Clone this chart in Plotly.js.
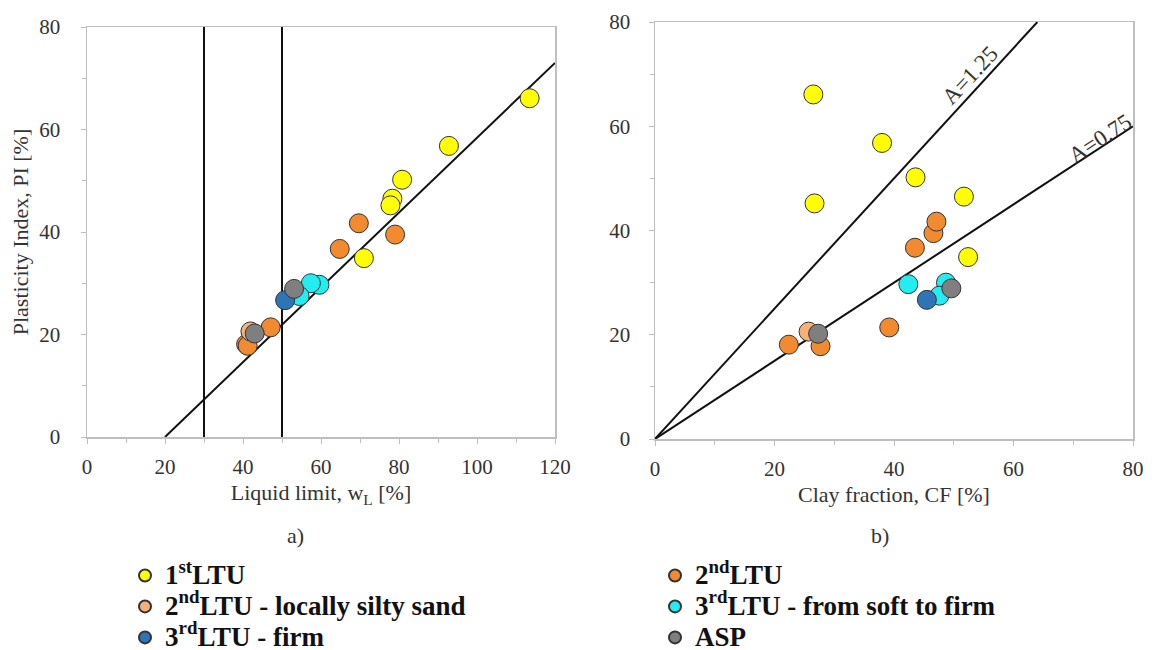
<!DOCTYPE html>
<html>
<head>
<meta charset="utf-8">
<script src="https://cdn.plot.ly/plotly-3.0.1.min.js"></script>
<style>html,body{margin:0;padding:0;background:#fff;}#chart{width:1161px;height:650px;}</style>
</head>
<body>
<div id="chart"></div>
<script>
// ---- Data ----
// 1st LTU
const ltu1_LL = [113.5, 92.8, 80.8, 78.3, 77.8, 71.0];
const ltu1_CF = [26.5, 38.0, 43.6, 51.7, 26.7, 52.4];
const ltu1_PI = [66.1, 56.8, 50.2, 46.5, 45.2, 34.9];
// 2nd LTU
const ltu2_LL = [40.8, 41.2, 47.1, 64.8, 79.0, 69.7];
const ltu2_CF = [22.4, 27.7, 39.2, 43.5, 46.6, 47.1];
const ltu2_PI = [18.1, 17.8, 21.4, 36.7, 39.5, 41.7];
// 2nd LTU - locally silty sand
const ltu2s_LL = [41.9];
const ltu2s_CF = [25.7];
const ltu2s_PI = [20.6];
// 3rd LTU - from soft to firm
const ltu3s_LL = [59.6, 57.4, 54.5];
const ltu3s_CF = [42.4, 48.7, 47.6];
const ltu3s_PI = [29.7, 30.0, 27.5];
// 3rd LTU - firm
const ltu3f_LL = [50.8];
const ltu3f_CF = [45.5];
const ltu3f_PI = [26.7];
// ASP
const asp_LL = [43.0, 53.1];
const asp_CF = [27.3, 49.6];
const asp_PI = [20.2, 28.9];

// Reference lines
const llBounds = [30, 50];          // vertical lines on plasticity chart
const aLineSlope = 0.73, aLineX0 = 20; // A-line PI = 0.73 (wL - 20)
const activities = [1.25, 0.75];    // activity lines PI = A * CF
const activityLabels = ['A=1.25', 'A=0.75'];

const seriesNames = ['1<sup>st</sup>LTU', '2<sup>nd</sup>LTU', '2<sup>nd</sup>LTU - locally silty sand',
  '3<sup>rd</sup>LTU - from soft to firm', '3<sup>rd</sup>LTU - firm', 'ASP'];
const seriesColors = ['#FFFF00', '#F28A30', '#F6B07A', '#22EEF2', '#2E75B6', '#7F7F7F'];
const seriesLL = [ltu1_LL, ltu2_LL, ltu2s_LL, ltu3s_LL, ltu3f_LL, asp_LL];
const seriesCF = [ltu1_CF, ltu2_CF, ltu2s_CF, ltu3s_CF, ltu3f_CF, asp_CF];
const seriesPI = [ltu1_PI, ltu2_PI, ltu2s_PI, ltu3s_PI, ltu3f_PI, asp_PI];

const FONT = 'Liberation Serif';
const traces = [];
const lineStyle = {color: '#111', width: 2};

// left plot lines
llBounds.forEach(v => traces.push({x: [v, v], y: [0, 80], mode: 'lines', line: lineStyle,
  xaxis: 'x', yaxis: 'y', showlegend: false, hoverinfo: 'skip'}));
traces.push({x: [aLineX0, 120], y: [0, aLineSlope * (120 - aLineX0)], mode: 'lines', line: lineStyle,
  xaxis: 'x', yaxis: 'y', showlegend: false, hoverinfo: 'skip'});
// right plot lines
activities.forEach(a => {
  const xEnd = Math.min(80, 80 / a);
  traces.push({x: [0, xEnd], y: [0, a * xEnd], mode: 'lines', line: lineStyle,
    xaxis: 'x2', yaxis: 'y2', showlegend: false, hoverinfo: 'skip'});
});

// data series
seriesNames.forEach((name, i) => {
  const marker = {color: seriesColors[i], size: 19, line: {color: '#333', width: 1}};
  traces.push({x: seriesLL[i], y: seriesPI[i], mode: 'markers',
    name: '<span style="font-size:27px">' + name + '</span>', marker: marker,
    xaxis: 'x', yaxis: 'y', legendgroup: 'g' + i, showlegend: true});
  traces.push({x: seriesCF[i], y: seriesPI[i], mode: 'markers', name: name, marker: marker,
    xaxis: 'x2', yaxis: 'y2', legendgroup: 'g' + i, showlegend: false});
});

const W = 1161, H = 650;
const axisCommon = {
  showgrid: false, zeroline: false, showline: true, linecolor: '#BFBFBF', linewidth: 1.5,
  mirror: true, ticks: 'outside', ticklen: 5, tickcolor: '#BFBFBF',
  tickfont: {family: FONT, size: 21, color: '#333'},
  minor: {dtick: 10, ticks: 'outside', ticklen: 4, tickcolor: '#BFBFBF', showgrid: false},
  dtick: 20, fixedrange: true
};
const titleFont = {family: FONT, size: 22, color: '#333'};

const layout = {
  width: W, height: H,
  margin: {l: 0, r: 0, t: 0, b: 0, autoexpand: false},
  paper_bgcolor: '#fff', plot_bgcolor: '#fff',
  font: {family: FONT, color: '#222'},
  showlegend: true,
  xaxis: Object.assign({}, axisCommon, {domain: [87 / W, 555 / W], range: [0, 120], anchor: 'y',
    ticklabelstandoff: 5,
    title: {text: 'Liquid limit, w<sub>L</sub> [%]', font: titleFont, standoff: 7}}),
  yaxis: Object.assign({}, axisCommon, {domain: [(H - 437) / H, (H - 27) / H], range: [0, 80], anchor: 'x',
    ticklabelstandoff: 16,
    title: {text: 'Plasticity Index, PI [%]', font: titleFont, standoff: 4}}),
  xaxis2: Object.assign({}, axisCommon, {domain: [655 / W, 1133 / W], range: [0, 80], anchor: 'y2',
    ticklabelstandoff: 5,
    title: {text: 'Clay fraction, CF [%]', font: titleFont, standoff: 7}}),
  yaxis2: Object.assign({}, axisCommon, {domain: [(H - 439) / H, (H - 22) / H], range: [0, 80], anchor: 'x2',
    ticklabelstandoff: 14}),
  legend: {
    orientation: 'h', x: 125 / W, xanchor: 'left', y: (H - 555) / H, yanchor: 'top',
    entrywidth: 485, entrywidthmode: 'pixels', itemwidth: 30, itemsizing: 'constant',
    font: {family: FONT, size: 21.5, color: '#111', weight: 'bold'},
    bgcolor: 'rgba(0,0,0,0)', traceorder: 'normal', itemclick: false, itemdoubleclick: false
  },
  annotations: [
    {text: 'a)', x: 295 / W, y: (H - 535) / H, xref: 'paper', yref: 'paper', showarrow: false,
      xanchor: 'center', yanchor: 'middle', font: {family: FONT, size: 22, color: '#333'}},
    {text: 'b)', x: 880 / W, y: (H - 535) / H, xref: 'paper', yref: 'paper', showarrow: false,
      xanchor: 'center', yanchor: 'middle', font: {family: FONT, size: 22, color: '#333'}},
    {text: activityLabels[0], x: 52.7, y: 69.8, xref: 'x2', yref: 'y2', showarrow: false, textangle: -47,
      xanchor: 'center', yanchor: 'middle', font: {family: FONT, size: 23, color: '#333'}},
    {text: activityLabels[1], x: 74.5, y: 57.7, xref: 'x2', yref: 'y2', showarrow: false, textangle: -33,
      xanchor: 'center', yanchor: 'middle', font: {family: FONT, size: 23, color: '#333'}}
  ]
};

Plotly.newPlot('chart', traces, layout, {displayModeBar: false, staticPlot: true});
</script>
</body>
</html>
